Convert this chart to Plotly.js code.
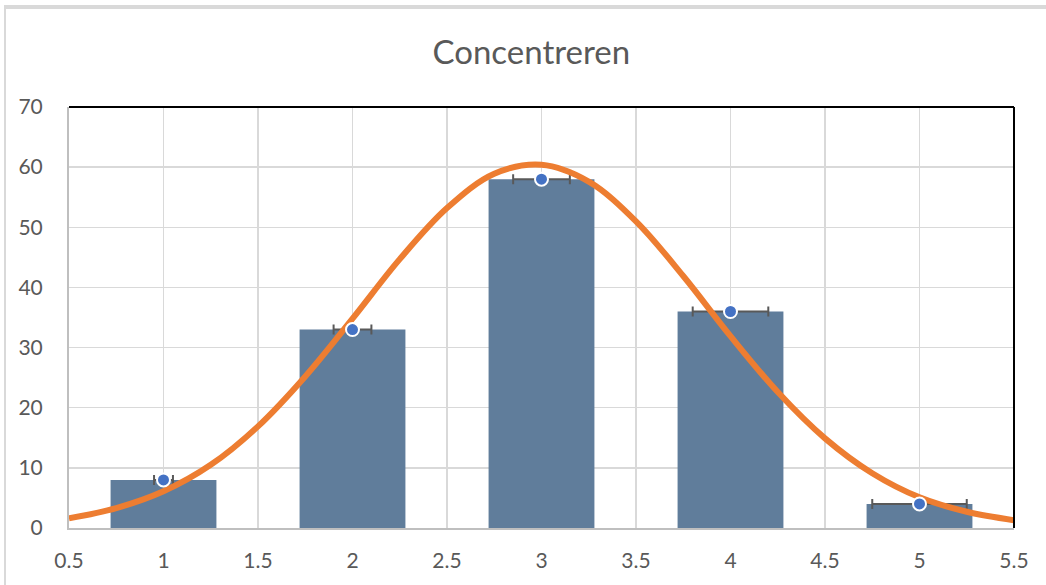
<!DOCTYPE html>
<html>
<head>
<meta charset="utf-8">
<script src="https://cdn.plot.ly/plotly-3.0.1.min.js"></script>
<style>
  html, body { margin: 0; padding: 0; background: #ffffff; }
  #wrap { position: relative; width: 1046px; height: 585px; overflow: hidden; }
  #frame { position: absolute; left: 4px; top: 5px; width: 1100px; height: 700px;
           border-top: 4px solid #d9d9d9; border-left: 2px solid #d9d9d9; box-sizing: border-box; pointer-events: none; }
  #chart { position: absolute; left: 0; top: 0; width: 1046px; height: 585px; }
</style>
</head>
<body>
<div id="wrap">
  <div id="chart"></div>
  <div id="frame"></div>
</div>
<script>
// Data
const categories = [1, 2, 3, 4, 5];
const counts = [8, 33, 58, 36, 4];
const xErrors = [0.05, 0.1, 0.15, 0.2, 0.25];

// Fitted normal curve
const curveX = [0.5, 0.75, 1.0, 1.25, 1.5, 1.75, 2.0, 2.25, 2.5, 2.75, 3.0,
                3.25, 3.5, 3.75, 4.0, 4.25, 4.5, 4.75, 5.0, 5.25, 5.5];
const curveY = [1.6, 3.3, 6.1, 10.5, 16.9, 25.2, 34.8, 44.7, 53.2, 58.9, 60.4,
                57.6, 51.0, 41.9, 31.9, 22.6, 14.9, 9.1, 5.1, 2.7, 1.3];

const xTicks = [0.5, 1, 1.5, 2, 2.5, 3, 3.5, 4, 4.5, 5, 5.5];
const xTickLabels = ['0.5', '1', '1.5', '2', '2.5', '3', '3.5', '4', '4.5', '5', '5.5'];
const yTicks = [0, 10, 20, 30, 40, 50, 60, 70];

const font = 'Lato, "Open Sans", "Liberation Sans", sans-serif';

const traces = [
  {
    type: 'bar',
    x: categories,
    y: counts,
    width: 0.56,
    marker: { color: '#607d9b' },
    hoverinfo: 'x+y',
    showlegend: false
  },
  {
    type: 'scatter',
    mode: 'markers',
    x: categories,
    y: counts,
    marker: { size: 1, color: 'rgba(0,0,0,0)' },
    error_x: { type: 'data', array: xErrors, visible: true, color: '#595959', thickness: 2, width: 5 },
    hoverinfo: 'skip',
    showlegend: false
  },
  {
    type: 'scatter',
    mode: 'lines',
    x: curveX,
    y: curveY,
    line: { color: '#ed7d31', width: 6, shape: 'spline', smoothing: 1 },
    hoverinfo: 'x+y',
    showlegend: false,
    cliponaxis: true
  },
  {
    type: 'scatter',
    mode: 'markers',
    x: categories,
    y: counts,
    marker: { size: 13, color: '#4472c4', line: { color: '#ffffff', width: 2 } },
    hoverinfo: 'x+y',
    showlegend: false,
    cliponaxis: false
  }
];

const layout = {
  width: 1046,
  height: 585,
  paper_bgcolor: '#ffffff',
  plot_bgcolor: '#ffffff',
  margin: { l: 69, r: 32, t: 107, b: 57 },
  title: {
    text: 'Concentreren',
    x: 0.508,
    xanchor: 'center',
    y: 0.91,
    yanchor: 'middle',
    font: { family: font, size: 33, color: '#595959' }
  },
  xaxis: {
    range: [0.5, 5.5],
    tickmode: 'array',
    tickvals: xTicks,
    ticktext: xTickLabels,
    showgrid: true,
    gridcolor: '#d9d9d9',
    gridwidth: 1.5,
    zeroline: false,
    showline: true,
    linecolor: '#bfbfbf',
    linewidth: 2,
    ticks: '',
    ticklabelstandoff: 13,
    tickfont: { family: font, size: 21, color: '#595959' },
    fixedrange: true
  },
  yaxis: {
    range: [0, 70],
    tickmode: 'array',
    tickvals: yTicks,
    showgrid: true,
    gridcolor: '#d9d9d9',
    gridwidth: 1.5,
    zeroline: false,
    showline: true,
    linecolor: '#bfbfbf',
    linewidth: 2,
    ticks: '',
    ticklabelstandoff: 20,
    tickfont: { family: font, size: 21, color: '#595959' },
    fixedrange: true
  },
  shapes: [
    { type: 'line', xref: 'paper', yref: 'paper', x0: 0, x1: 1, y0: 1, y1: 1,
      line: { color: '#000000', width: 2 } },
    { type: 'line', xref: 'paper', yref: 'paper', x0: 1, x1: 1, y0: 0, y1: 1,
      line: { color: '#000000', width: 2 } }
  ],
  bargap: 0.44
};

Plotly.newPlot('chart', traces, layout, { displayModeBar: false, staticPlot: true });
</script>
</body>
</html>
